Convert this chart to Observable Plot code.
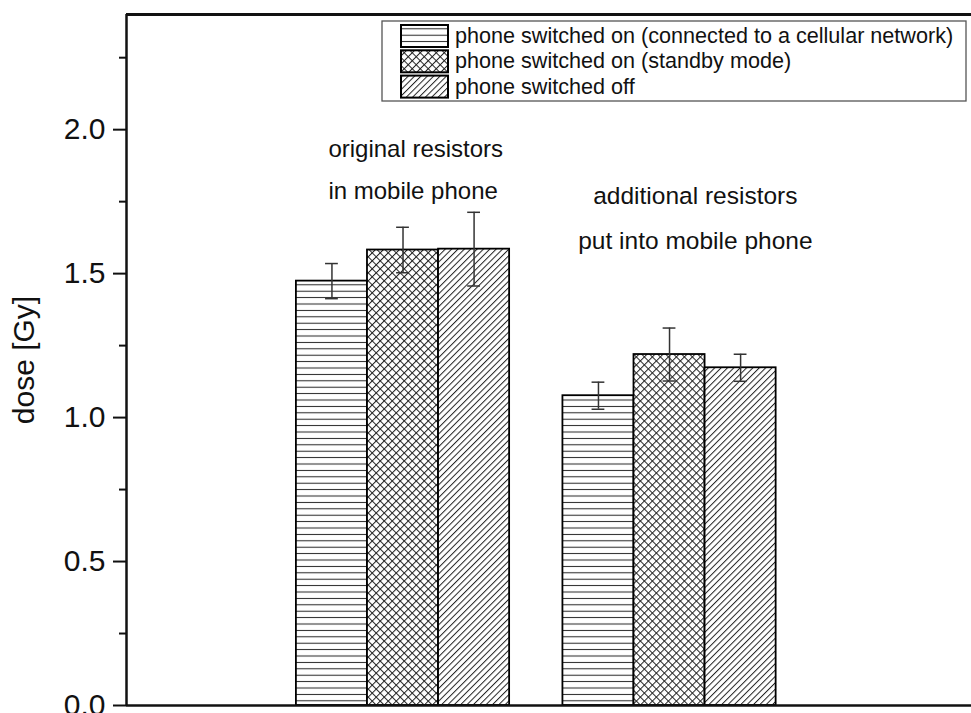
<!DOCTYPE html>
<html>
<head>
<meta charset="utf-8">
<script src="https://cdn.jsdelivr.net/npm/d3@7"></script>
<script src="https://cdn.jsdelivr.net/npm/@observablehq/plot@0.6"></script>
<style>
  html, body { margin: 0; padding: 0; background: #fff; }
  #chart { width: 971px; height: 713px; overflow: hidden; }
  svg { font-family: "Liberation Sans", Arial, sans-serif; }
</style>
</head>
<body>
<div id="chart"></div>
<script>
// ---- data ----
const groups = ["original resistors in mobile phone", "additional resistors put into mobile phone"];
const series = [
  "phone switched on (connected to a cellular network)",
  "phone switched on (standby mode)",
  "phone switched off"
];
const doseOriginal = [1.474, 1.582, 1.585];
const errOriginal = [0.061, 0.079, 0.128];
const doseAdditional = [1.076, 1.219, 1.173];
const errAdditional = [0.047, 0.092, 0.047];
const yTicks = [0, 0.5, 1.0, 1.5, 2.0];
const yMinorTicks = [0.25, 0.75, 1.25, 1.75, 2.25];
const annotLines = [
  {text: "original resistors", g: 0, line: 0},
  {text: "in mobile phone", g: 0, line: 1},
  {text: "additional resistors", g: 1, line: 0},
  {text: "put into mobile phone", g: 1, line: 1}
];

const patternIds = ["pat-hlines", "pat-cross", "pat-diag"];
const groupWidth = 0.8;
const barW = groupWidth / series.length;

const rows = [];
[[doseOriginal, errOriginal], [doseAdditional, errAdditional]].forEach(([dv, ev], g) => {
  dv.forEach((v, s) => {
    const c = (g + 1) + (s - (series.length - 1) / 2) * barW;
    rows.push({group: groups[g], series: series[s], s, g, x1: c - barW / 2, x2: c + barW / 2, xc: c, dose: v, err: ev[s]});
  });
});

const xDomain = [-0.0375, 3.133];
const yDomain = [0, 2.4];
const capHalf = 0.024;

// annotation placement (data coords)
const annotPos = [
  [{x: 0.72, y: 1.933, anchor: "start"}, {x: 0.72, y: 1.786, anchor: "start"}],
  [{x: 2.097, y: 1.769, anchor: "middle"}, {x: 2.097, y: 1.613, anchor: "middle"}]
];
const annots = annotLines.map(a => ({...a, ...annotPos[a.g][a.line]}));

const plot = Plot.plot({
  width: 971,
  height: 713,
  marginLeft: 126,
  marginRight: 0,
  marginTop: 14,
  marginBottom: 8,
  style: {fontFamily: "'Liberation Sans', Arial, sans-serif", background: "#fff", overflow: "hidden"},
  x: {domain: xDomain, axis: null},
  y: {domain: yDomain, axis: null},
  marks: [
    ...patternIds.map((pid, s) =>
      Plot.rectY(rows.filter(d => d.s === s), {x1: "x1", x2: "x2", y1: 0, y2: "dose", fill: `url(#${pid})`, stroke: "#000", strokeWidth: 1.8})
    ),
    Plot.ruleX(rows, {x: "xc", y1: d => d.dose - d.err, y2: d => d.dose + d.err, stroke: "#333", strokeWidth: 1.5}),
    Plot.ruleY(rows, {y: d => d.dose + d.err, x1: d => d.xc - capHalf, x2: d => d.xc + capHalf, stroke: "#333", strokeWidth: 1.5}),
    Plot.ruleY(rows, {y: d => d.dose - d.err, x1: d => d.xc - capHalf, x2: d => d.xc + capHalf, stroke: "#333", strokeWidth: 1.5}),
    Plot.text(annots.filter(d => d.anchor === "start"), {x: "x", y: "y", text: "text", textAnchor: "start", fontSize: 24, fill: "#111"}),
    Plot.text(annots.filter(d => d.anchor === "middle"), {x: "x", y: "y", text: "text", textAnchor: "middle", fontSize: 24.5, fill: "#111"}),
    Plot.axisY({ticks: yTicks, tickSize: 13, tickPadding: 8, tickFormat: d3.format(".1f"), fontSize: 30, strokeWidth: 2, color: "#111", label: null}),
    Plot.axisY({ticks: yMinorTicks, tickSize: 7, text: null, strokeWidth: 2, color: "#111", label: null}),
    Plot.ruleX([xDomain[0]], {stroke: "#111", strokeWidth: 2.5}),
    Plot.ruleY([0], {stroke: "#111", strokeWidth: 2.5}),
    Plot.ruleY([yDomain[1]], {stroke: "#111", strokeWidth: 2.8}),
    Plot.text(["dose [Gy]"], {frameAnchor: "left", textAnchor: "middle", dx: -102, rotate: -90, fontSize: 30, fill: "#111"})
  ]
});

// patterns
const svg = d3.select(plot);
const defs = svg.insert("defs", ":first-child");
const p1 = defs.append("pattern").attr("id", "pat-hlines").attr("patternUnits", "userSpaceOnUse").attr("width", 8).attr("height", 6.4);
p1.append("rect").attr("width", 8).attr("height", 6.4).attr("fill", "#fff");
p1.append("line").attr("x1", 0).attr("x2", 8).attr("y1", 3.2).attr("y2", 3.2).attr("stroke", "#222").attr("stroke-width", 1);
const p2 = defs.append("pattern").attr("id", "pat-cross").attr("patternUnits", "userSpaceOnUse").attr("width", 5.66).attr("height", 5.66).attr("patternTransform", "rotate(45)");
p2.append("rect").attr("width", 5.66).attr("height", 5.66).attr("fill", "#fff");
p2.append("line").attr("x1", 0.5).attr("x2", 0.5).attr("y1", 0).attr("y2", 5.66).attr("stroke", "#222").attr("stroke-width", 1);
p2.append("line").attr("x1", 0).attr("x2", 5.66).attr("y1", 0.5).attr("y2", 0.5).attr("stroke", "#222").attr("stroke-width", 1);
const p3 = defs.append("pattern").attr("id", "pat-diag").attr("patternUnits", "userSpaceOnUse").attr("width", 4.5).attr("height", 4.5).attr("patternTransform", "rotate(45)");
p3.append("rect").attr("width", 4.5).attr("height", 4.5).attr("fill", "#fff");
p3.append("line").attr("x1", 0.5).attr("x2", 0.5).attr("y1", 0).attr("y2", 4.5).attr("stroke", "#222").attr("stroke-width", 1);

// legend (inside plot frame, top right)
const lg = svg.append("g").attr("class", "legend").attr("text-anchor", "start");
lg.append("rect").attr("x", 382).attr("y", 21).attr("width", 584).attr("height", 80).attr("fill", "#fff").attr("stroke", "#555").attr("stroke-width", 1.3);
series.forEach((name, i) => {
  const y0 = 25 + i * 25.3;
  lg.append("rect").attr("x", 401).attr("y", y0).attr("width", 47).attr("height", 22).attr("fill", `url(#${patternIds[i]})`).attr("stroke", "#000").attr("stroke-width", 2);
  lg.append("text").attr("x", 455).attr("y", y0 + 18).attr("font-size", 21.6).attr("text-anchor", "start").attr("fill", "#111").text(name);
});

document.getElementById("chart").appendChild(plot);
</script>
</body>
</html>
